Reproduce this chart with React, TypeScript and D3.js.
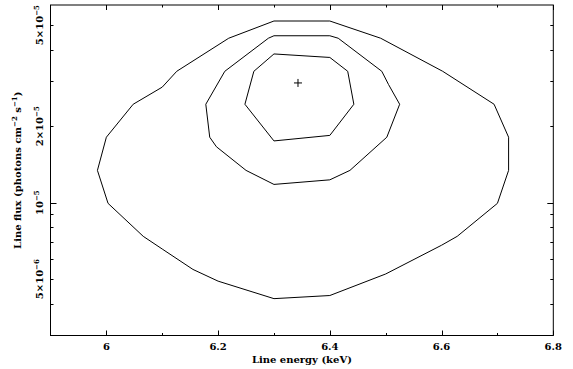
import { useRef, useEffect } from 'react';
import * as d3 from 'd3';

// outer contour (largest confidence level)
const outerEnergy = [6.3, 6.4, 6.491, 6.602, 6.694, 6.72, 6.72, 6.7, 6.628, 6.6, 6.5, 6.4, 6.3, 6.2, 6.155, 6.1, 6.066, 6.003, 5.984, 6.0, 6.048, 6.1, 6.126, 6.219];
const outerFlux = [5.19e-5, 5.19e-5, 4.44e-5, 3.29e-5, 2.44e-5, 1.81e-5, 1.34e-5, 9.94e-6, 7.37e-6, 6.8e-6, 5.24e-6, 4.31e-6, 4.19e-6, 4.91e-6, 5.46e-6, 6.57e-6, 7.37e-6, 9.94e-6, 1.34e-5, 1.81e-5, 2.44e-5, 2.85e-5, 3.29e-5, 4.44e-5];

// middle contour
const middleEnergy = [6.3, 6.4, 6.415, 6.493, 6.505, 6.525, 6.502, 6.436, 6.4, 6.3, 6.25, 6.197, 6.185, 6.178, 6.212, 6.29];
const middleFlux = [4.54e-5, 4.54e-5, 4.44e-5, 3.29e-5, 2.92e-5, 2.44e-5, 1.81e-5, 1.34e-5, 1.23e-5, 1.18e-5, 1.34e-5, 1.66e-5, 1.81e-5, 2.44e-5, 3.29e-5, 4.44e-5];

// inner contour
const innerEnergy = [6.3, 6.4, 6.432, 6.443, 6.4, 6.3, 6.248, 6.264];
const innerFlux = [3.85e-5, 3.73e-5, 3.29e-5, 2.44e-5, 1.84e-5, 1.75e-5, 2.44e-5, 3.29e-5];

// best fit
const bestEnergy = 6.343;
const bestFlux = 2.96e-5;

// axis ticks / labels
const energyMajor = [6, 6.2, 6.4, 6.6, 6.8];
const energyMinor = [6.1, 6.3, 6.5, 6.7];
const energyLabels = ['6', '6.2', '6.4', '6.6', '6.8'];
const fluxLabelValues = [5e-5, 2e-5, 1e-5, 5e-6];
const fluxLabelMantissa = ['5×10', '2×10', '10', '5×10'];
const fluxLabelExp = ['−5', '−5', '−5', '−6'];

const FONT = "'DejaVu Serif', serif";

export default function App() {
  const svgRef = useRef<SVGSVGElement>(null);

  useEffect(() => {
    if (!svgRef.current) return;
    const svg = d3.select(svgRef.current);
    svg.selectAll('*').remove();

    const left = 50.5, right = 553.3, top = 5, bottom = 335.5;

    const x = d3.scaleLinear().domain([5.9, 6.8]).range([left, right]);
    const y = d3.scaleLog().domain([3e-6, 6e-5]).range([bottom, top]);

    svg.append('rect')
      .attr('width', 573).attr('height', 369).attr('fill', '#fff');

    // frame
    svg.append('rect')
      .attr('x', left).attr('y', top)
      .attr('width', right - left).attr('height', bottom - top)
      .attr('fill', 'none').attr('stroke', '#000').attr('stroke-width', 1);

    const ticks = svg.append('g').attr('stroke', '#000').attr('stroke-width', 1);

    // x ticks, bottom and top
    const xt = [
      ...energyMajor.map(v => ({ v, len: 5 })),
      ...energyMinor.map(v => ({ v, len: 2.5 })),
    ];
    xt.forEach(t => {
      const px = Math.round(x(t.v)) + 0.5;
      ticks.append('line').attr('x1', px).attr('x2', px).attr('y1', bottom).attr('y2', bottom - t.len);
      ticks.append('line').attr('x1', px).attr('x2', px).attr('y1', top).attr('y2', top + t.len);
    });

    // y ticks, left and right
    y.ticks().forEach(v => {
      const py = Math.round(y(v)) + 0.5;
      if (py < top + 1 || py > bottom - 1) return;
      const major = Math.abs(Math.log10(v) - Math.round(Math.log10(v))) < 1e-6;
      const len = major ? 6 : 3;
      ticks.append('line').attr('x1', left).attr('x2', left + len).attr('y1', py).attr('y2', py);
      ticks.append('line').attr('x1', right).attr('x2', right - len).attr('y1', py).attr('y2', py);
    });

    // x tick labels
    energyMajor.forEach((v, i) => {
      svg.append('text')
        .attr('x', x(v)).attr('y', 350)
        .attr('text-anchor', 'middle')
        .style('font-family', FONT).style('font-size', '10px').style('font-weight', 'bold')
        .text(energyLabels[i]);
    });

    // y tick labels (rotated)
    fluxLabelValues.forEach((v, i) => {
      const lx = 43.5;
      const ly = y(v);
      const t = svg.append('text')
        .attr('x', lx).attr('y', ly)
        .attr('transform', `rotate(-90, ${lx}, ${ly})`)
        .attr('text-anchor', 'middle')
        .style('font-family', FONT).style('font-size', '10px').style('font-weight', 'bold');
      t.append('tspan').text(fluxLabelMantissa[i]);
      t.append('tspan').attr('dy', -4).style('font-size', '7px').text(fluxLabelExp[i]);
    });

    // axis titles
    svg.append('text')
      .attr('x', (left + right) / 2).attr('y', 363)
      .attr('text-anchor', 'middle')
      .style('font-family', FONT).style('font-size', '10px').style('font-weight', 'bold')
      .text('Line energy (keV)');

    const tx = 20.5, ty = (top + bottom) / 2;
    const title = svg.append('text')
      .attr('x', tx).attr('y', ty)
      .attr('transform', `rotate(-90, ${tx}, ${ty})`)
      .attr('text-anchor', 'middle')
      .style('font-family', FONT).style('font-size', '10px').style('font-weight', 'bold');
    title.append('tspan').text('Line flux (photons cm');
    title.append('tspan').attr('dy', -4).style('font-size', '7px').text('−2');
    title.append('tspan').attr('dy', 4).text(' s');
    title.append('tspan').attr('dy', -4).style('font-size', '7px').text('−1');
    title.append('tspan').attr('dy', 4).text(')');

    // contours
    const line = d3.line<[number, number]>()
      .x(d => x(d[0]))
      .y(d => y(d[1]))
      .curve(d3.curveLinearClosed);

    const contours: [number[], number[]][] = [
      [outerEnergy, outerFlux],
      [middleEnergy, middleFlux],
      [innerEnergy, innerFlux],
    ];
    contours.forEach(([e, f]) => {
      const pts = e.map((v, i) => [v, f[i]] as [number, number]);
      svg.append('path')
        .attr('d', line(pts))
        .attr('fill', 'none')
        .attr('stroke', '#000')
        .attr('stroke-width', 1);
    });

    // best-fit cross
    const bx = x(bestEnergy), by = y(bestFlux);
    svg.append('path')
      .attr('d', `M${bx - 4},${by}H${bx + 4}M${bx},${by - 4}V${by + 4}`)
      .attr('stroke', '#000').attr('stroke-width', 1);
  }, []);

  return (
    <svg
      ref={svgRef}
      width={573}
      height={369}
      style={{ position: 'absolute', left: 0, top: 0, display: 'block' }}
    />
  );
}
